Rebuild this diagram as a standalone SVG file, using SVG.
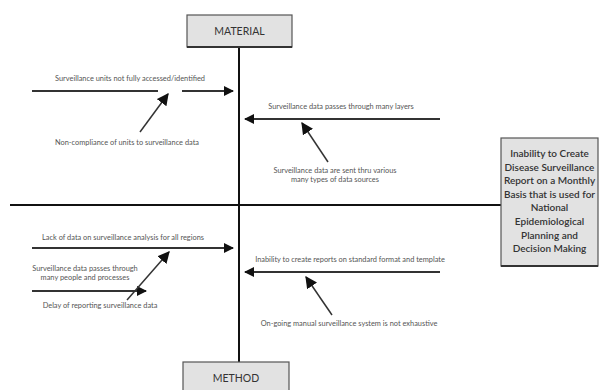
<svg xmlns="http://www.w3.org/2000/svg" width="603" height="390" viewBox="0 0 603 390">
<defs>
<marker id="ah" viewBox="0 0 10 10" refX="9" refY="5" markerWidth="10" markerHeight="10" markerUnits="userSpaceOnUse" orient="auto">
<path d="M0,0 L10,5 L0,10 Z" fill="#111"/>
</marker>
<marker id="ahs" viewBox="0 0 10 10" refX="9" refY="5" markerWidth="12" markerHeight="12" markerUnits="userSpaceOnUse" orient="auto">
<path d="M0,0 L10,5 L0,10 Z" fill="#111"/>
</marker>
</defs>
<style>
.box{fill:#e2e2e2;stroke:#555;stroke-width:1.2}
.cat{font-family:Lato,"Liberation Sans",sans-serif;font-size:10.5px;fill:#333;text-anchor:middle}
.eff{font-family:Lato,"Liberation Sans",sans-serif;font-size:10px;fill:#333;text-anchor:middle;font-weight:600}
.lbl{font-family:Lato,"Liberation Sans",sans-serif;font-size:7.4px;fill:#555;text-anchor:middle}
.bone{stroke:#333;stroke-width:2;fill:none}
.sub{stroke:#333;stroke-width:1.5;fill:none}
.spine{stroke:#111;stroke-width:2;fill:none}
</style>
<rect width="603" height="390" fill="#fff"/>
<g id="connectors">
<line class="spine" x1="239" y1="47" x2="239" y2="362"/>
<line class="spine" x1="10" y1="205" x2="501" y2="205"/>
<line class="bone" x1="32" y1="91" x2="158" y2="91"/>
<line class="bone" x1="182" y1="91" x2="233" y2="91" marker-end="url(#ah)"/>
<line class="sub" x1="140" y1="132" x2="168" y2="94" marker-end="url(#ahs)"/>
<line class="bone" x1="440" y1="119" x2="245" y2="119" marker-end="url(#ah)"/>
<line class="sub" x1="328" y1="162" x2="302" y2="123" marker-end="url(#ahs)"/>
<line class="bone" x1="32" y1="248" x2="233" y2="248" marker-end="url(#ah)"/>
<line class="bone" x1="32" y1="291" x2="146" y2="291" marker-end="url(#ah)"/>
<line class="sub" x1="127" y1="300" x2="169" y2="252" marker-end="url(#ahs)"/>
<line class="bone" x1="440" y1="272" x2="245" y2="272" marker-end="url(#ah)"/>
<line class="sub" x1="332" y1="315" x2="306" y2="277" marker-end="url(#ahs)"/>
</g>
<g id="material">
<rect class="box" x="187" y="15" width="105" height="32"/>
<line x1="187" y1="47" x2="292" y2="47" stroke="#333" stroke-width="2"/>
<text class="cat" x="239.5" y="35">MATERIAL</text>
</g>
<g id="method">
<rect class="box" x="183" y="362" width="106" height="34"/>
<text class="cat" x="236" y="382">METHOD</text>
</g>
<g id="effect">
<rect class="box" x="501" y="138" width="97" height="128"/>
<line x1="501" y1="266" x2="598" y2="266" stroke="#333" stroke-width="2"/>
<text class="eff" x="549.5" y="157">Inability to Create</text>
<text class="eff" x="549.5" y="170.6">Disease Surveillance</text>
<text class="eff" x="549.5" y="184.2">Report on a Monthly</text>
<text class="eff" x="549.5" y="197.8">Basis that is used for</text>
<text class="eff" x="549.5" y="211.4">National</text>
<text class="eff" x="549.5" y="225">Epidemiological</text>
<text class="eff" x="549.5" y="238.6">Planning and</text>
<text class="eff" x="549.5" y="252.2">Decision Making</text>
</g>
<g id="cause1"><text class="lbl" x="130" y="81">Surveillance units not fully accessed/identified</text></g>
<g id="cause2"><text class="lbl" x="127" y="145">Non-compliance of units to surveillance data</text></g>
<g id="cause3"><text class="lbl" x="341" y="109">Surveillance data passes through many layers</text></g>
<g id="cause4"><text class="lbl" x="335" y="173">Surveillance data are sent thru various</text><text class="lbl" x="335" y="182">many types of data sources</text></g>
<g id="cause5"><text class="lbl" x="123" y="240">Lack of data on surveillance analysis for all regions</text></g>
<g id="cause6"><text class="lbl" x="85" y="271">Surveillance data passes through</text><text class="lbl" x="85" y="280">many people and processes</text></g>
<g id="cause7"><text class="lbl" x="100" y="308">Delay of reporting surveillance data</text></g>
<g id="cause8"><text class="lbl" x="350" y="262">Inability to create reports on standard format and template</text></g>
<g id="cause9"><text class="lbl" x="349" y="326">On-going manual surveillance system is not exhaustive</text></g>
</svg>
